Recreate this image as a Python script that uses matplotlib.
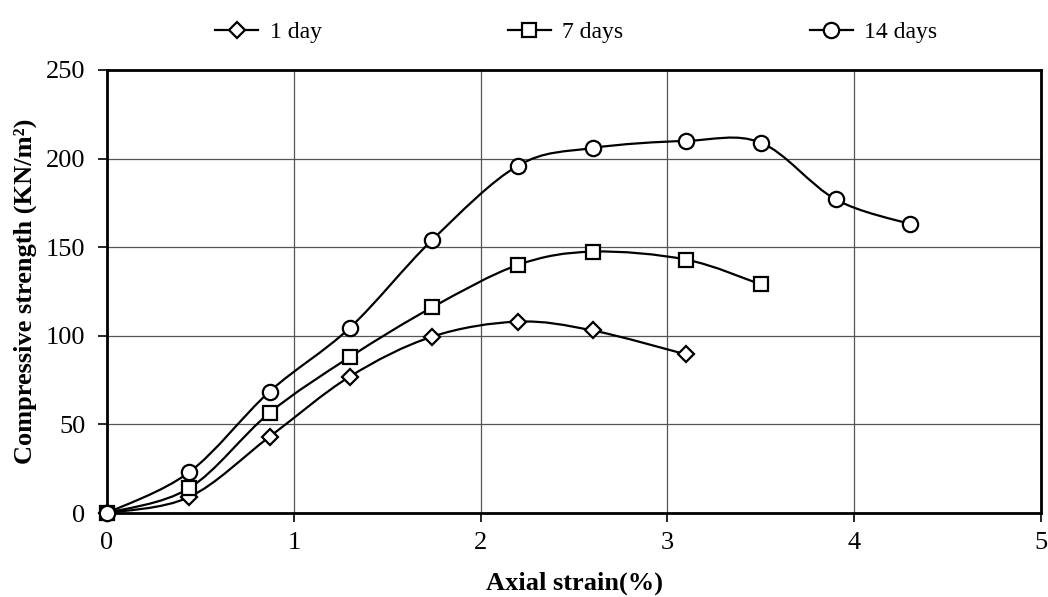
import matplotlib
matplotlib.use("Agg")
import matplotlib.pyplot as plt
from matplotlib.path import Path
from matplotlib.patches import PathPatch
from matplotlib.lines import Line2D
import numpy as np

plt.rcParams['font.family'] = ['Liberation Serif', 'DejaVu Serif']

x_1day = [0, 0.44, 0.87, 1.30, 1.74, 2.20, 2.60, 3.10]
y_1day = [0, 9, 43, 77, 99.5, 108, 103, 89.5]
x_7days = [0, 0.44, 0.87, 1.30, 1.74, 2.20, 2.60, 3.10, 3.50]
y_7days = [0, 14, 56.5, 88, 116, 140, 147.5, 143, 129]
x_14days = [0, 0.44, 0.87, 1.30, 1.74, 2.20, 2.60, 3.10, 3.50, 3.90, 4.30]
y_14days = [0, 23, 68.5, 104.5, 154, 196, 206, 210, 209, 177, 163]

series = [
    ("1 day", x_1day, y_1day, "D", 8.5),
    ("7 days", x_7days, y_7days, "s", 10.5),
    ("14 days", x_14days, y_14days, "o", 11),
]

x_ticks = [0, 1, 2, 3, 4, 5]
y_ticks = [0, 50, 100, 150, 200, 250]

fig = plt.figure(figsize=(10.48, 5.97), dpi=100)
ax = fig.add_axes([107/1048, 1-513/597, (1041-107)/1048, (513-70)/597])


def smooth_path(xs, ys):
    pts = np.column_stack([xs, ys]).astype(float)
    n = len(pts)
    verts = [pts[0]]
    codes = [Path.MOVETO]
    for i in range(n - 1):
        p0 = pts[i - 1] if i > 0 else pts[i]
        p1 = pts[i]
        p2 = pts[i + 1]
        p3 = pts[i + 2] if i + 2 < n else pts[i + 1]
        c1 = p1 + (p2 - p0) / 6.0
        c2 = p2 - (p3 - p1) / 6.0
        verts += [c1, c2, p2]
        codes += [Path.CURVE4] * 3
    return Path(verts, codes)


handles = []
for label, xs, ys, m, ms in series:
    patch = PathPatch(smooth_path(xs, ys), facecolor='none', edgecolor='black',
                      lw=1.6, transform=ax.transData, zorder=3)
    ax.add_patch(patch)
    ax.plot(xs, ys, linestyle='none', marker=m, markersize=ms,
            markerfacecolor='white', markeredgecolor='black',
            markeredgewidth=1.6, zorder=4, clip_on=False)
    handles.append(Line2D([], [], color='black', lw=1.6, marker=m, markersize=ms,
                          markerfacecolor='white', markeredgecolor='black',
                          markeredgewidth=1.6, label=label))

ax.set_xlim(0, 5)
ax.set_ylim(0, 250)
ax.set_xticks(x_ticks)
ax.set_yticks(y_ticks)
ax.grid(True, color='#555555', lw=0.9)
ax.set_axisbelow(True)
for s in ax.spines.values():
    s.set_linewidth(2)
    s.set_color('black')
ax.tick_params(axis='both', labelsize=19, direction='out', length=6.5, width=1.2, colors='black')
ax.tick_params(axis='x', pad=7)
ax.tick_params(axis='y', pad=9)
ax.set_xlabel("Axial strain(%)", fontsize=19, fontweight='bold')
ax.set_ylabel("Compressive strength (KN/m²)", fontsize=19, fontweight='bold')
ax.xaxis.set_label_coords(0.5, (513-583)/443)
ax.xaxis.label.set_va('center')
ax.yaxis.set_label_coords((25-107)/934, 0.5)
ax.yaxis.label.set_va('center')

fig.legend(handles=handles, loc='upper center', bbox_to_anchor=(0.55, 1.0), ncol=3,
           frameon=False, fontsize=17, columnspacing=7.9, handlelength=1.8,
           handletextpad=0.5)

fig.savefig("out.png", dpi=100)
